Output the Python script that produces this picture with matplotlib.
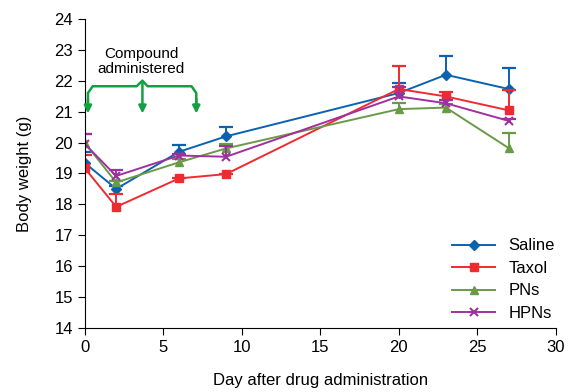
import matplotlib
matplotlib.use("Agg")
import matplotlib.pyplot as plt

days = [0, 2, 6, 9, 20, 23, 27]

saline = [19.34, 18.50, 19.70, 20.20, 21.60, 22.19, 21.73]
saline_err = [0.35, 0.10, 0.22, 0.30, 0.34, 0.60, 0.67]
taxol = [19.17, 17.92, 18.84, 18.98, 21.73, 21.49, 21.04]
taxol_err = [0.43, 0.40, 0.00, 0.00, 0.76, 0.13, 0.66]
pns = [19.99, 18.71, 19.36, 19.81, 21.08, 21.13, 19.82]
pns_err = [0.30, 0.05, 0.10, 0.14, 0.19, 0.10, 0.48]
hpns = [19.95, 18.92, 19.58, 19.54, 21.49, 21.27, 20.70]
hpns_err = [0.33, 0.20, 0.05, 0.34, 0.32, 0.10, 0.05]

labels = ["Saline", "Taxol", "PNs", "HPNs"]
colors = ["#0a62b0", "#f02a30", "#6a9a48", "#a0309f"]
markers = ["D", "s", "^", "x"]

plt.rcParams['font.family'] = ['Liberation Sans', 'DejaVu Sans']
fig = plt.figure(figsize=(5.73, 3.92), dpi=100)
ax = fig.add_axes([0.148, 0.163, 0.822, 0.789])

series = [(saline, saline_err), (taxol, taxol_err), (pns, pns_err), (hpns, hpns_err)]
handles = []
for (vals, errs), lab, c, m in zip(series, labels, colors, markers):
    ms = 6 if m != "D" else 5
    tops = [v + e for v, e in zip(vals, errs)]
    # upper error bars only, with a cap at the top
    ax.vlines(days, vals, tops, color=c, lw=1.4)
    ax.plot(days, tops, ls="none", marker="_", ms=10, mew=1.6, color=c)
    h, = ax.plot(days, vals, color=c, marker=m, markersize=ms,
                 markeredgewidth=1.5 if m == "x" else 1, lw=1.4, label=lab)
    handles.append(h)

# annotation bracket for dosing
gc = "#12a040"
ax.plot([0.2, 0.2, 0.5, 3.3, 3.67, 4.0, 6.8, 7.1, 7.1],
        [21.1, 21.6, 21.82, 21.82, 22.0, 21.82, 21.82, 21.6, 21.1],
        color=gc, lw=1.8, solid_joinstyle='round')
for xa in [0.2, 3.67, 7.1]:
    ax.annotate("", xy=(xa, 20.85), xytext=(xa, 21.5 if xa != 3.67 else 22.0),
                arrowprops=dict(arrowstyle="-|>", color=gc, lw=1.8, mutation_scale=11))
ax.text(3.6, 22.62, "Compound\nadministered", ha="center", va="center",
        fontsize=11, linespacing=1.05)

ax.set_xlim(0, 30)
ax.set_ylim(14, 24)
ax.set_xticks(range(0, 31, 5))
ax.set_yticks(range(14, 25))
ax.spines['top'].set_visible(False)
ax.spines['right'].set_visible(False)
ax.tick_params(labelsize=12, direction='out', length=5)
ax.set_xlabel("Day after drug administration", fontsize=12, labelpad=13)
ax.set_ylabel("Body weight (g)", fontsize=12, labelpad=16)

ax.legend(handles, labels, loc="lower right", frameon=False, fontsize=12,
          handlelength=2.6, labelspacing=0.45, bbox_to_anchor=(1.03, -0.025))

fig.savefig("out.png", dpi=100)
